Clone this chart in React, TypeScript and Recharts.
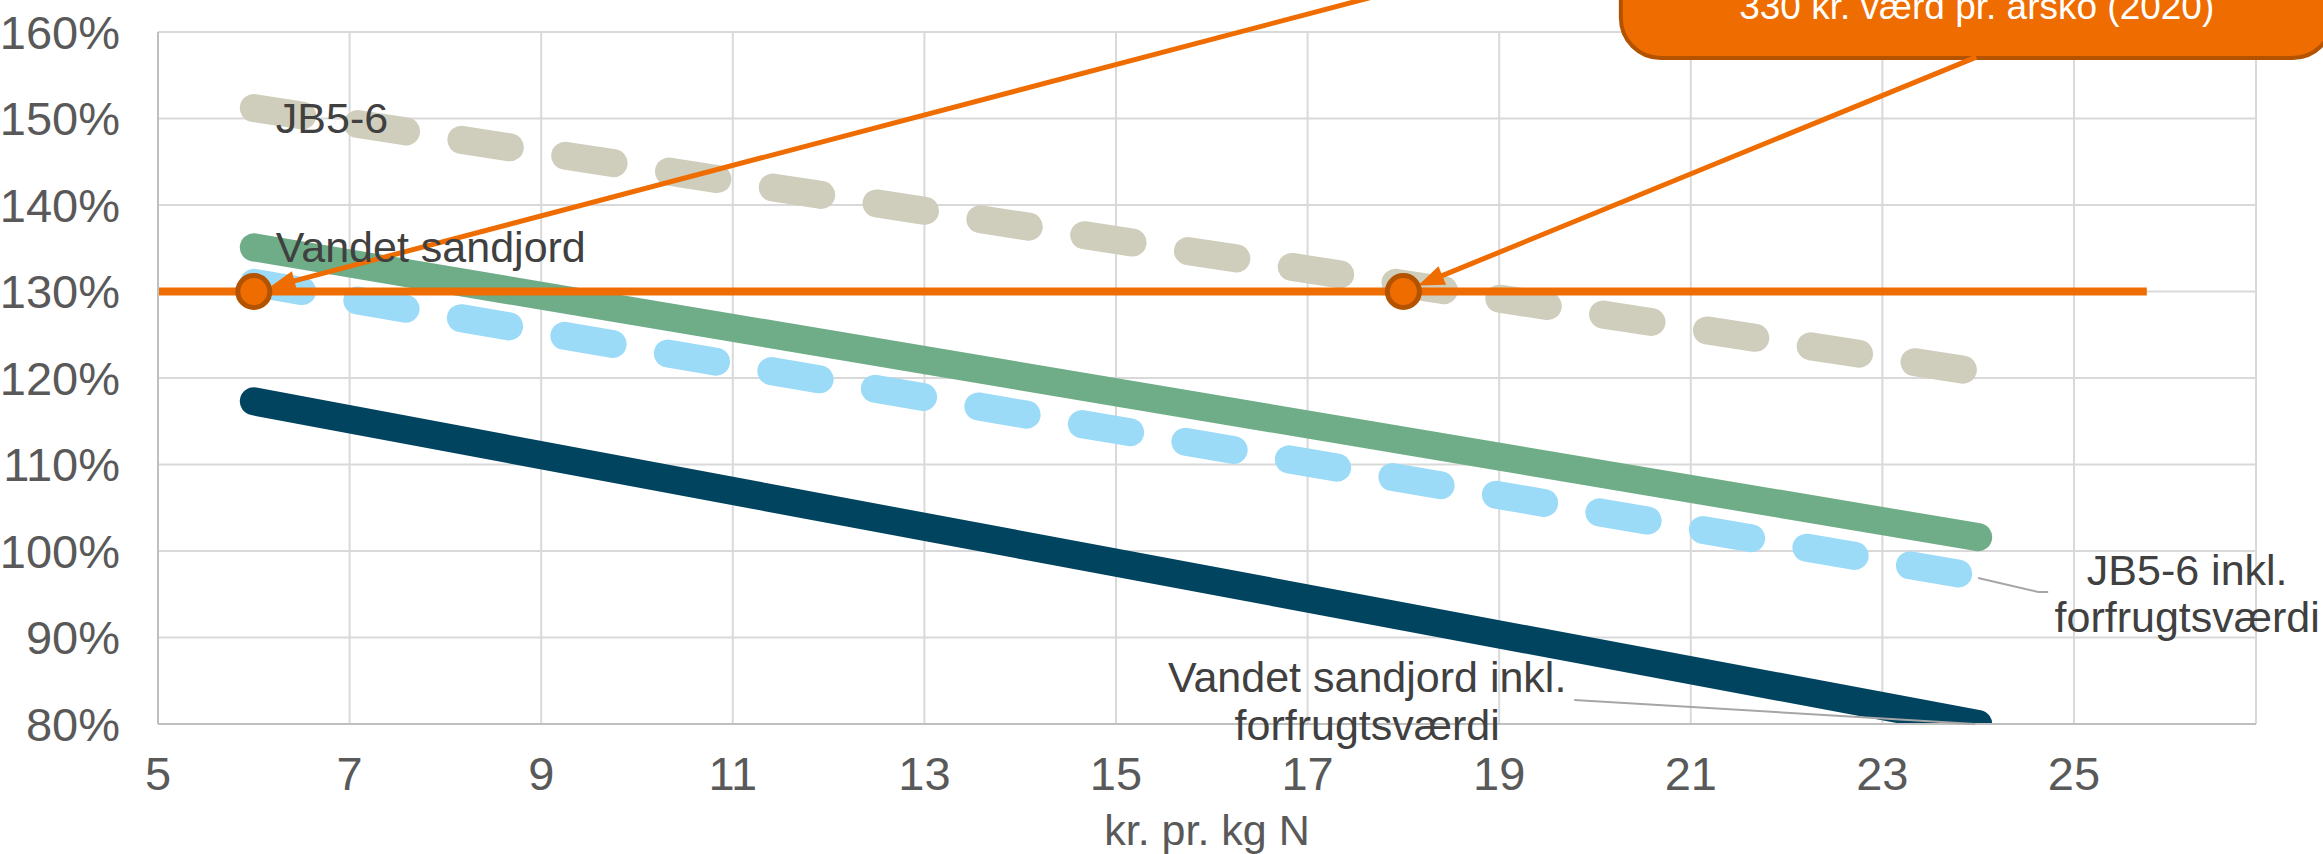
import React from 'react';
import {
  ComposedChart,
  Line,
  Scatter,
  XAxis,
  YAxis,
  CartesianGrid,
  ReferenceLine,
  ReferenceArea,
} from 'recharts';

// ---------- data ----------
const xTicks = [5, 7, 9, 11, 13, 15, 17, 19, 21, 23, 25];
const yTicks = [0.8, 0.9, 1.0, 1.1, 1.2, 1.3, 1.4, 1.5, 1.6];

const jb56 = [
  { x: 6, y: 1.512 },
  { x: 24, y: 1.207 },
];
const vandetSandjord = [
  { x: 6, y: 1.351 },
  { x: 24, y: 1.016 },
];
const jb56Inkl = [
  { x: 6, y: 1.31 },
  { x: 24, y: 0.97 },
];
const vandetInkl = [
  { x: 6, y: 1.173 },
  { x: 24, y: 0.8 },
];
const aarskoLine = [
  { x: 5, y: 1.3 },
  { x: 25.76, y: 1.3 },
];
const aarskoPoints = [
  { x: 6, y: 1.3 },
  { x: 18, y: 1.3 },
];

const calloutText = '330 kr. værd pr. årsko (2020)';
const xTitle = 'kr. pr. kg N';
const labelJB = 'JB5-6';
const labelVandet = 'Vandet sandjord';
const labelJBInkl = ['JB5-6 inkl.', 'forfrugtsværdi'];
const labelVandetInkl = ['Vandet sandjord inkl.', 'forfrugtsværdi'];

// annotation anchors (data coordinates)
const calloutBox = { x1: 20.27, x2: 27.7, y1: 1.57, y2: 1.72 };
const arrow1 = [
  { x: 20.27, y: 1.716 },
  { x: 6, y: 1.3 },
];
const arrow2 = [
  { x: 23.98, y: 1.571 },
  { x: 18, y: 1.3 },
];

// ---------- styles ----------
const FONT = '"Liberation Sans", Arial, sans-serif';
const ORANGE = '#EF6C00';
const ORANGE_DARK = '#B35300';
const GREY_DASH = '#CFCDBB';
const GREEN = '#6FAD88';
const LIGHT_BLUE = '#9CDBF8';
const NAVY = '#00445F';
const LABEL_COLOR = '#404040';
const TICK_COLOR = '#595959';
const LINE_W = 28;
const DASH = '49 56';
const LABEL_FS = 43;

const px = (p: any) => (p.x ?? p.viewBox?.x) as number;
const py = (p: any) => (p.y ?? p.viewBox?.y) as number;

const startLabel = (text: string, dx: number, dy: number) => (p: any) => {
  if (p.index !== 0) return <g key={`e${p.index}`} />;
  return (
    <text
      key="lbl"
      x={px(p) + dx}
      y={py(p) + dy}
      dy="0.35em"
      fontSize={LABEL_FS}
      fill={LABEL_COLOR}
      fontFamily={FONT}
    >
      {text}
    </text>
  );
};

const jbInklLabel = (p: any) => {
  if (p.index !== 1) return <g key={`e${p.index}`} />;
  const x = px(p);
  const y = py(p);
  return (
    <g key="lbl">
      <polyline
        points={`${x},${y + 1} ${x + 60},${y + 15} ${x + 70},${y + 15}`}
        fill="none"
        stroke="#A6A6A6"
        strokeWidth={2}
      />
      <text x={x + 209} y={y - 7} dy="0.35em" textAnchor="middle" fontSize={LABEL_FS} fill={LABEL_COLOR} fontFamily={FONT}>
        {labelJBInkl[0]}
      </text>
      <text x={x + 209} y={y + 40} dy="0.35em" textAnchor="middle" fontSize={LABEL_FS} fill={LABEL_COLOR} fontFamily={FONT}>
        {labelJBInkl[1]}
      </text>
    </g>
  );
};

const vandetInklLabel = (p: any) => {
  if (p.index !== 1) return <g key={`e${p.index}`} />;
  const x = px(p);
  const y = py(p);
  return (
    <g key="lbl">
      <line x1={x - 3} y1={y} x2={x - 404} y2={y - 24} stroke="#A6A6A6" strokeWidth={2} />
      <text x={x - 611} y={y - 47} dy="0.35em" textAnchor="middle" fontSize={LABEL_FS} fill={LABEL_COLOR} fontFamily={FONT}>
        {labelVandetInkl[0]}
      </text>
      <text x={x - 611} y={y + 1} dy="0.35em" textAnchor="middle" fontSize={LABEL_FS} fill={LABEL_COLOR} fontFamily={FONT}>
        {labelVandetInkl[1]}
      </text>
    </g>
  );
};

const arrowShape = (p: any) => {
  const { x1, y1, x2, y2 } = p;
  const dx = x2 - x1;
  const dy = y2 - y1;
  const L = Math.hypot(dx, dy) || 1;
  const ux = dx / L;
  const uy = dy / L;
  const tipX = x2 - ux * 16;
  const tipY = y2 - uy * 16;
  const headLen = 26;
  const half = 10;
  const bx = tipX - ux * headLen;
  const by = tipY - uy * headLen;
  const nx = -uy;
  const ny = ux;
  return (
    <g>
      <line x1={x1} y1={y1} x2={bx + ux * 4} y2={by + uy * 4} stroke={ORANGE} strokeWidth={5} />
      <polygon
        points={`${tipX},${tipY} ${bx + nx * half},${by + ny * half} ${bx - nx * half},${by - ny * half}`}
        fill={ORANGE}
      />
    </g>
  );
};

const calloutShape = (p: any) => {
  const { x, y, width, height } = p;
  return (
    <g>
      <rect
        x={x}
        y={y}
        width={width}
        height={height}
        rx={40}
        ry={40}
        fill={ORANGE}
        stroke={ORANGE_DARK}
        strokeWidth={4}
      />
      <text
        x={x + width / 2}
        y={y + height - 39}
        textAnchor="middle"
        fontSize={37}
        fill="#FFFFFF"
        fontFamily={FONT}
      >
        {calloutText}
      </text>
    </g>
  );
};

const markerShape = (p: any) => (
  <circle cx={p.cx} cy={p.cy} r={16} fill={ORANGE} stroke={ORANGE_DARK} strokeWidth={5} />
);

const XTitle = (p: any) => {
  const vb = p.viewBox || {};
  return (
    <text
      x={vb.x + vb.width / 2}
      y={830}
      dy="0.35em"
      textAnchor="middle"
      fontSize={43}
      fill={TICK_COLOR}
      fontFamily={FONT}
    >
      {xTitle}
    </text>
  );
};

export default function App() {
  return (
    <div style={{ position: 'absolute', left: 0, top: 0, width: 2323, height: 854, background: '#fff' }}>
      <ComposedChart
        width={2323}
        height={854}
        margin={{ top: 32, right: 67, bottom: 0, left: 0 }}
        style={{ fontFamily: FONT }}
      >
        <CartesianGrid stroke="#D9D9D9" strokeWidth={2} />
        <XAxis
          type="number"
          dataKey="x"
          domain={[5, 26.9]}
          ticks={xTicks}
          allowDataOverflow
          height={130}
          tickLine={false}
          tickSize={0}
          tickMargin={33}
          axisLine={{ stroke: '#BFBFBF', strokeWidth: 2 }}
          tick={{ fontSize: 47, fill: TICK_COLOR, fontFamily: FONT }}
          label={<XTitle />}
        />
        <YAxis
          type="number"
          domain={[0.8, 1.6]}
          ticks={yTicks}
          allowDataOverflow
          width={158}
          tickLine={false}
          tickSize={0}
          tickMargin={38}
          axisLine={{ stroke: '#BFBFBF', strokeWidth: 2 }}
          tick={{ fontSize: 47, fill: TICK_COLOR, fontFamily: FONT }}
          tickFormatter={(v: number) => `${Math.round(v * 100)}%`}
        />
        <Line
          data={vandetInkl}
          dataKey="y"
          type="linear"
          stroke={NAVY}
          strokeWidth={LINE_W}
          strokeLinecap="round"
          dot={false}
          activeDot={false}
          isAnimationActive={false}
          label={vandetInklLabel}
        />
        <Line
          data={jb56Inkl}
          dataKey="y"
          type="linear"
          stroke={LIGHT_BLUE}
          strokeWidth={LINE_W}
          strokeLinecap="round"
          strokeDasharray={DASH}
          dot={false}
          activeDot={false}
          isAnimationActive={false}
          label={jbInklLabel}
        />
        <Line
          data={vandetSandjord}
          dataKey="y"
          type="linear"
          stroke={GREEN}
          strokeWidth={LINE_W}
          strokeLinecap="round"
          dot={false}
          activeDot={false}
          isAnimationActive={false}
          label={startLabel(labelVandet, 22, 0)}
        />
        <Line
          data={jb56}
          dataKey="y"
          type="linear"
          stroke={GREY_DASH}
          strokeWidth={LINE_W}
          strokeLinecap="round"
          strokeDasharray={DASH}
          dot={false}
          activeDot={false}
          isAnimationActive={false}
          label={startLabel(labelJB, 22, 10)}
        />
        <Line
          data={aarskoLine}
          dataKey="y"
          type="linear"
          stroke={ORANGE}
          strokeWidth={8}
          strokeLinecap="butt"
          dot={false}
          activeDot={false}
          isAnimationActive={false}
        />
        <Scatter data={aarskoPoints} dataKey="y" shape={markerShape} isAnimationActive={false} />
        <ReferenceLine segment={arrow1} ifOverflow="visible" shape={arrowShape} />
        <ReferenceLine segment={arrow2} ifOverflow="visible" shape={arrowShape} />
        <ReferenceArea
          x1={calloutBox.x1}
          x2={calloutBox.x2}
          y1={calloutBox.y1}
          y2={calloutBox.y2}
          ifOverflow="visible"
          shape={calloutShape}
        />
      </ComposedChart>
    </div>
  );
}
